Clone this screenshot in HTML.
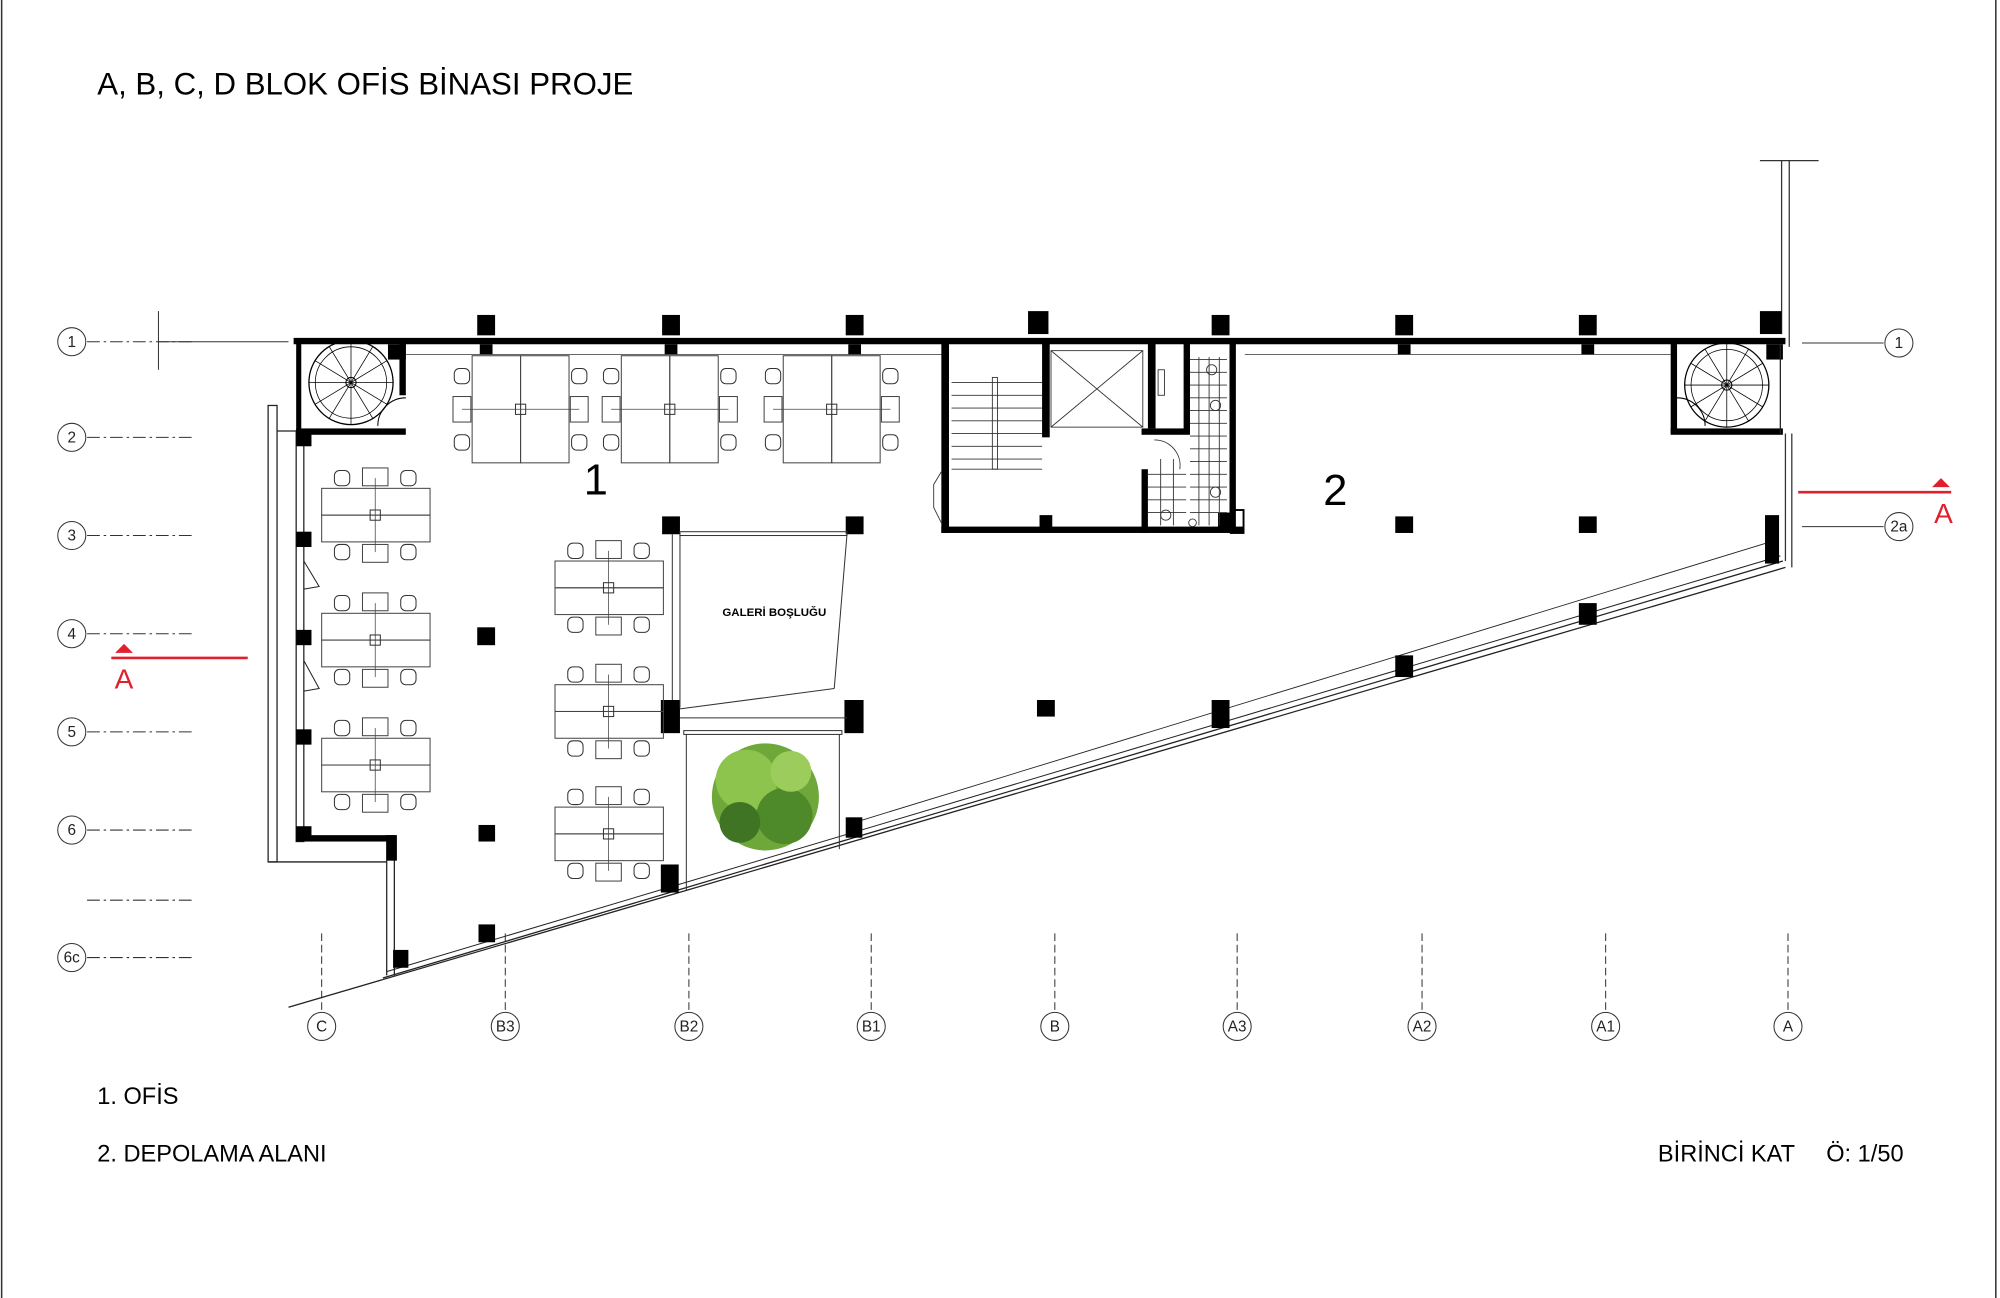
<!DOCTYPE html>
<html><head><meta charset="utf-8"><style>
html,body{margin:0;padding:0;background:#fff}
svg{display:block}
text{font-family:"Liberation Sans",sans-serif}
</style></head><body>
<svg width="2000" height="1298" viewBox="0 0 1568 1018" xmlns="http://www.w3.org/2000/svg">
<defs>
<g id="ch"><rect x="-6" y="-6" width="12" height="12" rx="4" fill="none" stroke="#333" stroke-width="0.8"/></g>
<g id="dv">
 <rect x="0" y="0" width="38" height="84" fill="none" stroke="#444" stroke-width="0.8"/>
 <rect x="38" y="0" width="38" height="84" fill="none" stroke="#444" stroke-width="0.8"/>
 <use href="#ch" x="-8" y="16"/><use href="#ch" x="-8" y="68"/>
 <use href="#ch" x="84" y="16"/><use href="#ch" x="84" y="68"/>
 <rect x="-15" y="32" width="14" height="20" fill="none" stroke="#444" stroke-width="0.8"/>
 <rect x="77" y="32" width="14" height="20" fill="none" stroke="#444" stroke-width="0.8"/>
 <line x1="-8" y1="42" x2="84" y2="42" stroke="#444" stroke-width="0.6"/>
 <rect x="34" y="38" width="8" height="8" fill="none" stroke="#333" stroke-width="0.8"/>
</g>
<g id="dh">
 <rect x="0" y="0" width="85" height="21" fill="none" stroke="#444" stroke-width="0.8"/>
 <rect x="0" y="21" width="85" height="21" fill="none" stroke="#444" stroke-width="0.8"/>
 <use href="#ch" x="16" y="-8"/><use href="#ch" x="68" y="-8"/>
 <use href="#ch" x="16" y="50"/><use href="#ch" x="68" y="50"/>
 <rect x="32" y="-16" width="20" height="14" fill="none" stroke="#444" stroke-width="0.8"/>
 <rect x="32" y="44" width="20" height="14" fill="none" stroke="#444" stroke-width="0.8"/>
 <line x1="42" y1="-8" x2="42" y2="50" stroke="#444" stroke-width="0.6"/>
 <rect x="38" y="17" width="8" height="8" fill="none" stroke="#333" stroke-width="0.8"/>
</g>
<g id="sp">
 <circle r="33" fill="none" stroke="#000" stroke-width="1"/>
 <circle r="28" fill="none" stroke="#000" stroke-width="0.6"/>
 <circle r="4" fill="#fff" stroke="#000" stroke-width="0.8"/>
 <g stroke="#000" stroke-width="0.6">
 <line x1="0" y1="0" x2="33" y2="0"/><line x1="0" y1="0" x2="28" y2="17"/><line x1="0" y1="0" x2="17" y2="28"/><line x1="0" y1="0" x2="0" y2="33"/>
 <line x1="0" y1="0" x2="-17" y2="28"/><line x1="0" y1="0" x2="-28" y2="17"/><line x1="0" y1="0" x2="-33" y2="0"/><line x1="0" y1="0" x2="-28" y2="-17"/>
 <line x1="0" y1="0" x2="-17" y2="-28"/><line x1="0" y1="0" x2="0" y2="-33"/><line x1="0" y1="0" x2="17" y2="-28"/><line x1="0" y1="0" x2="28" y2="-17"/>
 </g>
</g>
</defs>
<rect width="1568" height="1018" fill="#fff"/>
<line x1="1" y1="0" x2="1" y2="1018" stroke="#333" stroke-width="1.2"/>
<line x1="1565" y1="0" x2="1565" y2="1018" stroke="#333" stroke-width="1.2"/>

<text x="76" y="74" font-size="24.5">A, B, C, D BLOK OFİS BİNASI  PROJE</text>

<!-- grid rows left -->
<g stroke="#333" stroke-width="0.8" fill="none">
 <circle cx="56" cy="268" r="11"/><circle cx="56" cy="343" r="11"/><circle cx="56" cy="420" r="11"/>
 <circle cx="56" cy="497" r="11"/><circle cx="56" cy="574" r="11"/><circle cx="56" cy="651" r="11"/><circle cx="56" cy="751" r="11"/>
 <g stroke-dasharray="10 3 2 3">
 <line x1="68" y1="268" x2="150" y2="268"/><line x1="68" y1="343" x2="152" y2="343"/><line x1="68" y1="420" x2="152" y2="420"/>
 <line x1="68" y1="497" x2="152" y2="497"/><line x1="68" y1="574" x2="152" y2="574"/><line x1="68" y1="651" x2="152" y2="651"/>
 <line x1="68" y1="706" x2="152" y2="706"/><line x1="68" y1="751" x2="152" y2="751"/>
 </g>
 <line x1="124" y1="244" x2="124" y2="290"/><line x1="124" y1="268" x2="226" y2="268"/>
 <circle cx="1489" cy="269" r="11"/><circle cx="1489" cy="413" r="11"/>
 <line x1="1413" y1="269" x2="1477" y2="269"/><line x1="1413" y1="413" x2="1477" y2="413"/>
 <g>
 <circle cx="252" cy="805" r="11"/><circle cx="396" cy="805" r="11"/><circle cx="540" cy="805" r="11"/><circle cx="683" cy="805" r="11"/>
 <circle cx="827" cy="805" r="11"/><circle cx="970" cy="805" r="11"/><circle cx="1115" cy="805" r="11"/><circle cx="1259" cy="805" r="11"/><circle cx="1402" cy="805" r="11"/>
 </g>
 <g stroke-dasharray="6 3">
 <line x1="252" y1="732" x2="252" y2="793"/><line x1="396" y1="732" x2="396" y2="793"/><line x1="540" y1="732" x2="540" y2="793"/>
 <line x1="683" y1="732" x2="683" y2="793"/><line x1="827" y1="732" x2="827" y2="793"/><line x1="970" y1="732" x2="970" y2="793"/>
 <line x1="1115" y1="732" x2="1115" y2="793"/><line x1="1259" y1="732" x2="1259" y2="793"/><line x1="1402" y1="732" x2="1402" y2="793"/>
 </g>
</g>
<g font-size="12" text-anchor="middle" fill="#222">
 <text x="56" y="272">1</text><text x="56" y="347">2</text><text x="56" y="424">3</text><text x="56" y="501">4</text>
 <text x="56" y="578">5</text><text x="56" y="655">6</text><text x="56" y="755">6c</text>
 <text x="1489" y="273">1</text><text x="1489" y="417">2a</text>
 <text x="252" y="809">C</text><text x="396" y="809">B3</text><text x="540" y="809">B2</text><text x="683" y="809">B1</text>
 <text x="827" y="809">B</text><text x="970" y="809">A3</text><text x="1115" y="809">A2</text><text x="1259" y="809">A1</text><text x="1402" y="809">A</text>
</g>

<!-- section markers -->
<g fill="#e0202e" stroke="#e0202e">
 <line x1="87" y1="516" x2="194" y2="516" stroke-width="2"/>
 <polygon points="90,512 104,512 97,505" stroke="none"/>
 <line x1="1410" y1="386" x2="1530" y2="386" stroke-width="2"/>
 <polygon points="1515,382 1529,382 1522,375" stroke="none"/>
</g>
<text x="97" y="540" font-size="22" fill="#e0202e" text-anchor="middle">A</text>
<text x="1524" y="410" font-size="22" fill="#e0202e" text-anchor="middle">A</text>

<!-- top-right facade -->
<g stroke="#333" stroke-width="1" fill="none">
 <line x1="1380" y1="126" x2="1426" y2="126"/>
 <line x1="1397" y1="126" x2="1397" y2="262"/><line x1="1403" y1="126" x2="1403" y2="272"/>
 <line x1="1400" y1="340" x2="1400" y2="440"/><line x1="1405" y1="340" x2="1405" y2="445"/>
</g>

<!-- main walls -->
<rect x="230" y="265" width="1170" height="5" fill="#000"/>
<g stroke="#222" fill="none">
 <line x1="226" y1="790" x2="1400" y2="445" stroke-width="1"/>
 <line x1="300" y1="767" x2="1398" y2="440" stroke-width="1"/>
 <line x1="303" y1="762" x2="1396" y2="436" stroke-width="0.8"/>
 <line x1="670" y1="645" x2="1388" y2="425" stroke-width="0.7"/>
</g>

<!-- left wing -->
<g stroke="#222" fill="none" stroke-width="1">
 <rect x="210" y="318" width="7" height="358"/>
 <line x1="210" y1="676" x2="303" y2="676"/>
 <line x1="303" y1="655" x2="303" y2="765"/><line x1="309" y1="655" x2="309" y2="765"/>
 <line x1="217" y1="338" x2="232" y2="338"/>
</g>
<rect x="232" y="338" width="6" height="322" fill="none" stroke="#222" stroke-width="1"/>
<rect x="232" y="655" width="78" height="5" fill="#000"/>
<rect x="303" y="655" width="8" height="20" fill="#000"/>
<g fill="#000">
 <rect x="232" y="338" width="12" height="12"/><rect x="232" y="417" width="12" height="12"/>
 <rect x="232" y="494" width="12" height="12"/><rect x="232" y="572" width="12" height="12"/><rect x="232" y="648" width="12" height="12"/>
</g>
<path d="M238,440 L250,460 L238,462 M238,518 L250,540 L238,542" stroke="#222" fill="none" stroke-width="0.8"/>

<!-- spiral stair left -->
<rect x="232" y="268" width="4" height="72" fill="#000"/>
<rect x="232" y="336" width="86" height="5" fill="#000"/>
<rect x="313" y="268" width="5" height="42" fill="#000"/>
<rect x="304" y="270" width="14" height="12" fill="#000"/>
<use href="#sp" x="275" y="300"/>
<path d="M318,312 A22,22 0 0 0 296,334" stroke="#000" fill="none" stroke-width="0.8"/>

<!-- spiral stair right -->
<rect x="1310" y="268" width="5" height="72" fill="#000"/>
<rect x="1310" y="336" width="88" height="5" fill="#000"/>
<rect x="1385" y="270" width="13" height="12" fill="#000"/>
<line x1="1396" y1="270" x2="1396" y2="340" stroke="#222"/>
<use href="#sp" x="1354" y="302"/>
<path d="M1315,312 A22,22 0 0 1 1337,334" stroke="#000" fill="none" stroke-width="0.8"/>

<!-- top columns -->
<g fill="#000">
 <rect x="374" y="247" width="14" height="16"/><rect x="519" y="247" width="14" height="16"/><rect x="663" y="247" width="14" height="16"/>
 <rect x="806" y="244" width="16" height="18"/><rect x="950" y="247" width="14" height="16"/><rect x="1094" y="247" width="14" height="16"/>
 <rect x="1238" y="247" width="14" height="16"/><rect x="1380" y="244" width="17" height="18"/>
 <rect x="376" y="270" width="10" height="8"/><rect x="521" y="270" width="10" height="8"/><rect x="665" y="270" width="10" height="8"/>
 <rect x="1096" y="270" width="10" height="8"/><rect x="1240" y="270" width="10" height="8"/>
</g>
<line x1="318" y1="278" x2="738" y2="278" stroke="#333" stroke-width="0.6"/>
<line x1="976" y1="278" x2="1310" y2="278" stroke="#333" stroke-width="0.6"/>

<!-- core -->
<g fill="#000">
 <rect x="738" y="268" width="6" height="150"/>
 <rect x="738" y="413" width="237" height="5"/>
 <rect x="817" y="268" width="6" height="75"/>
 <rect x="900" y="268" width="6" height="68"/>
 <rect x="928" y="268" width="5" height="70"/>
 <rect x="964" y="268" width="5" height="150"/>
 <rect x="895" y="336" width="38" height="5"/>
 <rect x="895" y="368" width="5" height="50"/>
 <rect x="815" y="404" width="10" height="12"/>
 <rect x="955" y="402" width="10" height="14"/>
</g>
<rect x="965" y="400" width="10" height="18" fill="none" stroke="#000" stroke-width="1.5"/>
<g stroke="#333" stroke-width="0.7" fill="none">
 <rect x="824" y="275" width="72" height="60"/>
 <line x1="824" y1="275" x2="896" y2="335"/><line x1="896" y1="275" x2="824" y2="335"/>
 <rect x="908" y="290" width="5" height="20"/>
 <path d="M746,300 H817 M746,310 H817 M746,320 H817 M746,330 H817 M746,340 H817 M746,350 H817 M746,360 H817 M746,368 H817"/>
 <rect x="778" y="296" width="4" height="72"/>
 <path d="M738,370 L732,380 L732,398 L738,410"/>
 <path d="M905,345 A20,20 0 0 1 925,368"/>
 <path d="M933,282 H962 M933,292 H962 M933,302 H962 M933,312 H962 M933,322 H962 M933,332 H962 M933,342 H962 M933,352 H962 M933,362 H962 M933,372 H962 M933,382 H962 M933,392 H962 M933,402 H962"/>
 <path d="M940,280 V412 M948,280 V412 M956,280 V412"/>
 <path d="M900,372 H930 M900,382 H930 M900,392 H930 M900,402 H930 M910,360 V412 M920,360 V412"/>
 <circle cx="950" cy="290" r="4"/><circle cx="953" cy="318" r="4"/><circle cx="953" cy="386" r="4"/><circle cx="914" cy="404" r="4"/><circle cx="935" cy="410" r="3"/>
</g>

<!-- gallery and tree -->
<g fill="#000">
 <rect x="519" y="405" width="14" height="14"/><rect x="663" y="405" width="14" height="14"/>
 <rect x="518" y="549" width="15" height="26"/><rect x="662" y="549" width="15" height="26"/>
 <rect x="518" y="678" width="14" height="22"/><rect x="663" y="641" width="13" height="16"/>
</g>
<g stroke="#333" fill="none" stroke-width="0.8">
 <rect x="533" y="417" width="131" height="3"/>
 <line x1="533" y1="419" x2="533" y2="555"/><line x1="527" y1="419" x2="527" y2="549"/>
 <line x1="664" y1="419" x2="654" y2="540"/><line x1="533" y1="556" x2="654" y2="540"/>
 <line x1="533" y1="563" x2="664" y2="563"/>
 <rect x="536" y="573" width="124" height="3"/>
 <line x1="538" y1="576" x2="538" y2="698"/><line x1="658" y1="576" x2="658" y2="666"/>
</g>
<text x="607" y="483" font-size="9" text-anchor="middle" font-weight="bold">GALERİ BOŞLUĞU</text>
<g>
 <circle cx="600" cy="625" r="42" fill="#6fa83a"/>
 <circle cx="585" cy="612" r="24" fill="#8cc44e"/>
 <circle cx="615" cy="640" r="22" fill="#4f8a2a"/>
 <circle cx="620" cy="605" r="16" fill="#9ccd5c"/>
 <circle cx="580" cy="645" r="16" fill="#3f7424"/>
</g>

<!-- free columns -->
<g fill="#000">
 <rect x="374" y="492" width="14" height="14"/><rect x="375" y="647" width="13" height="13"/>
 <rect x="375" y="725" width="13" height="14"/><rect x="308" y="745" width="12" height="14"/>
 <rect x="813" y="549" width="14" height="13"/><rect x="950" y="549" width="14" height="22"/>
 <rect x="1094" y="405" width="14" height="13"/><rect x="1238" y="405" width="14" height="13"/>
 <rect x="1094" y="514" width="14" height="17"/><rect x="1238" y="473" width="14" height="17"/>
 <rect x="1384" y="404" width="11" height="38"/>
</g>

<!-- desks -->
<use href="#dv" x="370" y="279"/><use href="#dv" x="487" y="279"/><use href="#dv" x="614" y="279"/>
<use href="#dh" x="252" y="383"/><use href="#dh" x="252" y="481"/><use href="#dh" x="252" y="579"/>
<use href="#dh" x="435" y="440"/><use href="#dh" x="435" y="537"/><use href="#dh" x="435" y="633"/>

<text x="467" y="388" font-size="34" text-anchor="middle">1</text>
<text x="1047" y="396" font-size="34" text-anchor="middle">2</text>

<text x="76" y="866" font-size="18.5">1. OFİS</text>
<text x="76" y="911" font-size="18.5">2. DEPOLAMA ALANI</text>
<text x="1300" y="911" font-size="18.5">BİRİNCİ KAT</text>
<text x="1432" y="911" font-size="18.5">Ö: 1/50</text>
</svg>
</body></html>
